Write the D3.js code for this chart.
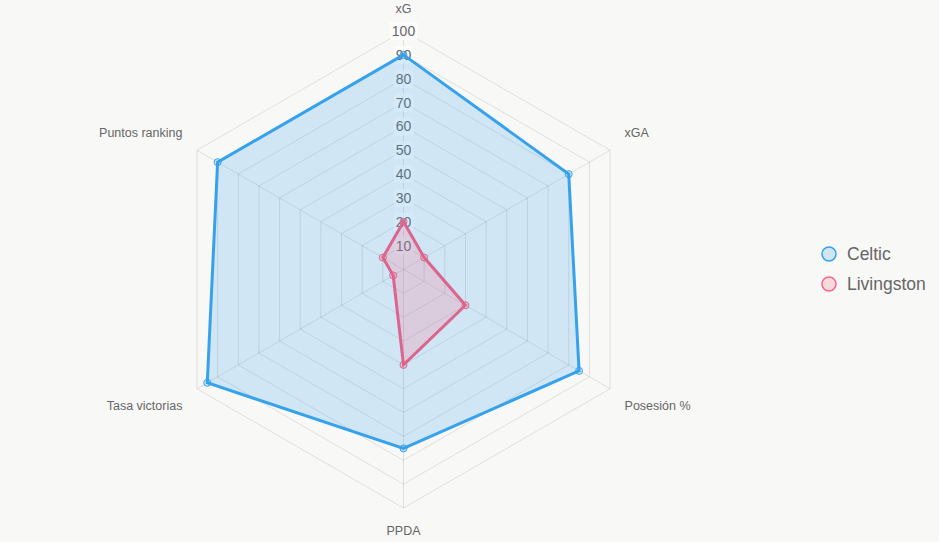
<!DOCTYPE html>
<html>
<head>
<meta charset="utf-8">
<script src="https://cdn.jsdelivr.net/npm/d3@7"></script>
<style>
  body { margin: 0; background: #f8f8f7; }
  svg { display: block; font-family: "Liberation Sans", Arial, Helvetica, sans-serif; }
</style>
</head>
<body>
<div class="radar"></div>
<script>
// Axes and values of the radar
var axis_labels = ["xG", "xGA", "Posesión %", "PPDA", "Tasa victorias", "Puntos ranking"];
var celtic_values = [90, 80, 85, 75, 95, 90];
var livingston_values = [20, 10, 30, 40, 5, 10];
var tick_values = [10, 20, 30, 40, 50, 60, 70, 80, 90, 100];
var team_names = ["Celtic", "Livingston"];

var W = 939, H = 542;
var CX = 403.5, CY = 269.5; // Center of the radar
var R = 238.5; // Radius at 100

var svg = d3.select(".radar").append("svg")
    .attr("width", W)
    .attr("height", H);

var r = d3.scaleLinear().domain([0, 100]).range([0, R]);
var angle = d3.scaleLinear().domain([0, axis_labels.length]).range([0, 2 * Math.PI]);

function point_at(i, v) {
    var a = angle(i);
    return [CX + r(v) * Math.sin(a), CY - r(v) * Math.cos(a)];
}

// Grid rings (hexagons)
tick_values.forEach(function (t) {
    var pts = axis_labels.map(function (d, i) { return point_at(i, t); });
    svg.append("polygon")
        .attr("points", pts.map(function (p) { return p.join(","); }).join(" "))
        .attr("fill", "none")
        .attr("stroke", "rgba(0,0,0,0.1)")
        .attr("stroke-width", 1);
});

// Angle lines
axis_labels.forEach(function (d, i) {
    var p = point_at(i, 100);
    svg.append("line")
        .attr("x1", CX).attr("y1", CY)
        .attr("x2", p[0]).attr("y2", p[1])
        .attr("stroke", "rgba(0,0,0,0.1)")
        .attr("stroke-width", 1);
});

// Tick labels with backdrop
tick_values.forEach(function (t) {
    var y = CY - r(t);
    var g = svg.append("g");
    var txt = g.append("text")
        .attr("x", CX).attr("y", y)
        .attr("text-anchor", "middle")
        .attr("dominant-baseline", "central")
        .attr("font-size", 14)
        .attr("fill", "#666")
        .text(t);
    var bb = txt.node().getBBox();
    g.insert("rect", "text")
        .attr("x", bb.x - 2).attr("y", bb.y - 1)
        .attr("width", bb.width + 4).attr("height", bb.height + 2)
        .attr("fill", "rgba(255,255,255,0.75)");
});

// Point labels
axis_labels.forEach(function (d, i) {
    var a = angle(i);
    var p = point_at(i, 100);
    var sx = Math.sin(a), cy = Math.cos(a);
    var anchor, x, y;
    if (Math.abs(sx) < 0.01) {
        anchor = "middle";
        x = p[0];
        y = p[1] - Math.sign(cy) * 22.5;
    } else {
        anchor = sx > 0 ? "start" : "end";
        x = p[0] + Math.sign(sx) * 14.5;
        y = p[1] - Math.sign(cy) * 17;
    }
    svg.append("text")
        .attr("x", x).attr("y", y)
        .attr("text-anchor", anchor)
        .attr("dominant-baseline", "central")
        .attr("font-size", 12.5)
        .attr("fill", "#666")
        .text(d);
});

var series = [
    { name: team_names[0], values: celtic_values, line: "rgb(54,162,235)", fill: "rgba(54,162,235,0.2)" },
    { name: team_names[1], values: livingston_values, line: "rgb(219,101,142)", fill: "rgba(255,99,132,0.2)" }
];

var radial = d3.lineRadial()
    .angle(function (d, i) { return angle(i); })
    .radius(function (d) { return r(d); })
    .curve(d3.curveLinearClosed);

series.forEach(function (s) {
    var g = svg.append("g").attr("transform", "translate(" + CX + "," + CY + ")");
    g.append("path")
        .attr("d", radial(s.values))
        .attr("fill", s.fill)
        .attr("stroke", s.line)
        .attr("stroke-width", 3)
        .attr("stroke-linejoin", "miter");
    s.values.forEach(function (v, i) {
        var p = point_at(i, v);
        svg.append("circle")
            .attr("cx", p[0]).attr("cy", p[1])
            .attr("r", 3.5)
            .attr("fill", s.fill)
            .attr("stroke", s.line)
            .attr("stroke-width", 1);
    });
});

// Legend
var legend_colors = [
    { stroke: "rgb(54,162,235)", fill: "rgba(54,162,235,0.2)" },
    { stroke: "rgb(255,99,132)", fill: "rgba(255,99,132,0.2)" }
];
team_names.forEach(function (n, i) {
    var y = 254 + i * 30;
    svg.append("circle")
        .attr("cx", 829).attr("cy", y)
        .attr("r", 7)
        .attr("fill", legend_colors[i].fill)
        .attr("stroke", legend_colors[i].stroke)
        .attr("stroke-width", 1.5);
    svg.append("text")
        .attr("x", 847).attr("y", y)
        .attr("dominant-baseline", "central")
        .attr("font-size", 17.5)
        .attr("fill", "#666")
        .text(n);
});
</script>
</body>
</html>
